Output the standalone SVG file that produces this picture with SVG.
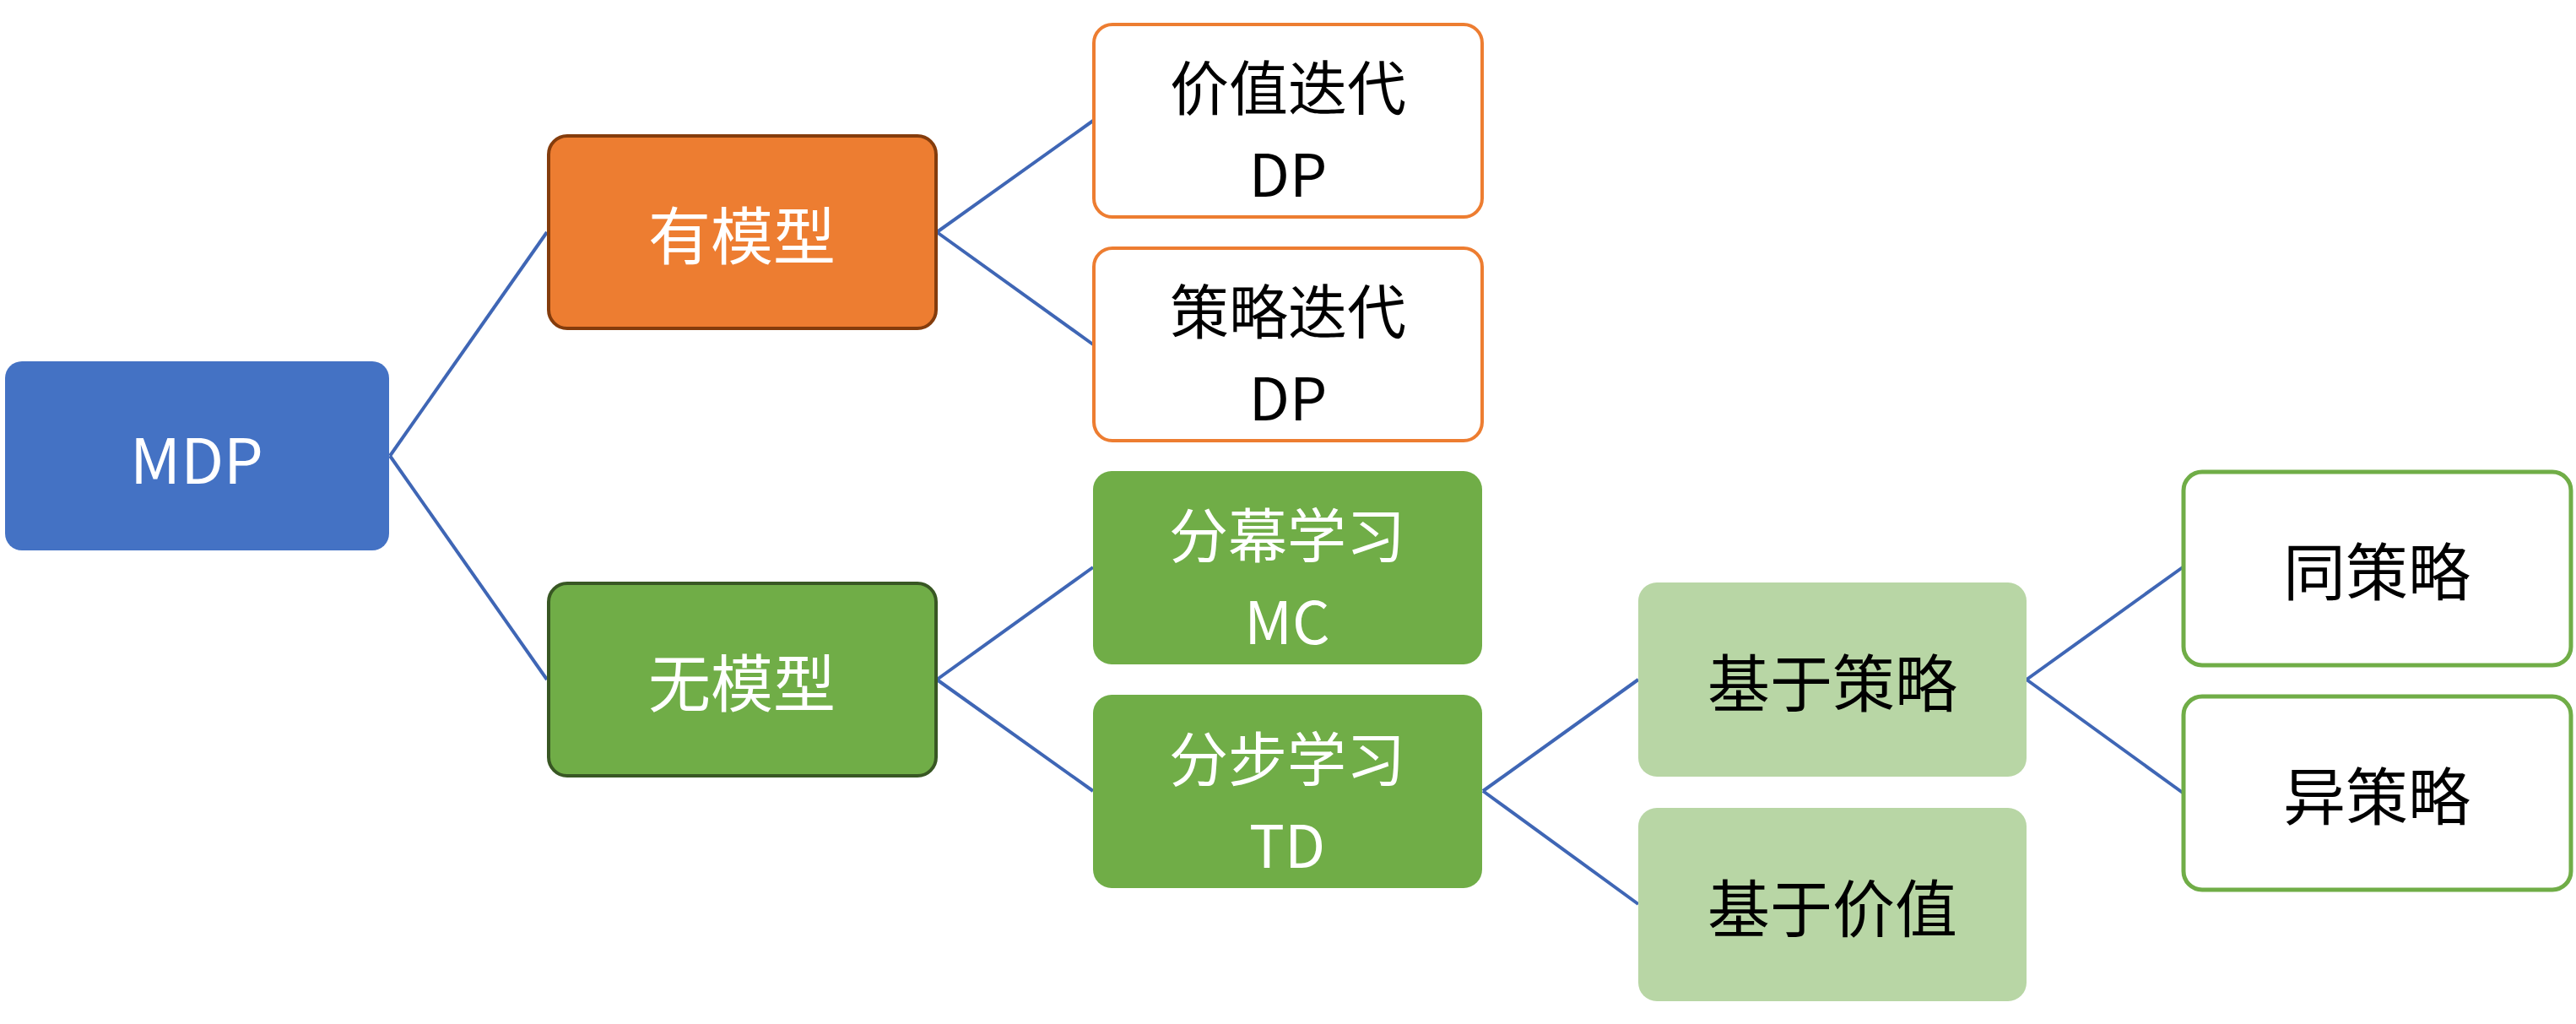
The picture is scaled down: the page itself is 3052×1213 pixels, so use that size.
<svg xmlns="http://www.w3.org/2000/svg" width="3052" height="1213" viewBox="0 0 3052 1213">
<style>
text{font-family:"Noto Sans CJK SC","Noto Sans",sans-serif;font-size:74px;text-anchor:middle;dominant-baseline:central}
text.t2{font-size:70px}
.w{fill:#fff}.k{fill:#000}
.con line{stroke:#3F66B5;stroke-width:4;fill:none}
</style>
<rect width="3052" height="1213" fill="#fff"/>
<g class="con" id="connectors">
<line x1="462" y1="540" x2="648" y2="275"/>
<line x1="462" y1="540" x2="648" y2="805"/>
<line x1="1110" y1="275" x2="1295" y2="143"/>
<line x1="1110" y1="275" x2="1295" y2="408"/>
<line x1="1110" y1="805" x2="1295" y2="672"/>
<line x1="1110" y1="805" x2="1295" y2="937"/>
<line x1="1757" y1="937" x2="1941" y2="805"/>
<line x1="1757" y1="937" x2="1941" y2="1071"/>
<line x1="2401" y1="805" x2="2586" y2="672"/>
<line x1="2401" y1="805" x2="2586" y2="939"/>
</g>
<g id="mdp"><rect x="6" y="428" width="455" height="224" rx="20" fill="#4472C4"/><text class="w" x="233" y="540">MDP</text></g>
<g id="youmoxing"><rect x="650" y="161" width="459" height="228" rx="22" fill="#ED7D31" stroke="#843C0C" stroke-width="4"/><text class="w" x="879" y="274">有模型</text></g>
<g id="wumoxing"><rect x="650" y="691" width="459" height="228" rx="22" fill="#70AD47" stroke="#385723" stroke-width="4"/><text class="w" x="879" y="804">无模型</text></g>
<g id="jiazhi"><rect x="1296" y="29" width="460" height="228" rx="22" fill="#fff" stroke="#ED7D31" stroke-width="4"/><text class="k t2" x="1526" y="100">价值迭代</text><text class="k t2" x="1526" y="202">DP</text></g>
<g id="celve"><rect x="1296" y="294" width="460" height="228" rx="22" fill="#fff" stroke="#ED7D31" stroke-width="4"/><text class="k t2" x="1526" y="365">策略迭代</text><text class="k t2" x="1526" y="467">DP</text></g>
<g id="mc"><rect x="1295" y="558" width="461" height="229" rx="22" fill="#70AD47"/><text class="w t2" x="1525" y="630">分幕学习</text><text class="w t2" x="1525" y="732">MC</text></g>
<g id="td"><rect x="1295" y="823" width="461" height="229" rx="22" fill="#70AD47"/><text class="w t2" x="1525" y="895">分步学习</text><text class="w t2" x="1525" y="997">TD</text></g>
<g id="jiyucelve"><rect x="1941" y="690" width="460" height="230" rx="22" fill="#B8D6A5"/><text class="k" x="2171" y="804">基于策略</text></g>
<g id="jiyujiazhi"><rect x="1941" y="957" width="460" height="229" rx="22" fill="#B8D6A5"/><text class="k" x="2171" y="1071">基于价值</text></g>
<g id="tongcelve"><rect x="2587" y="559" width="459" height="229" rx="22" fill="#fff" stroke="#70AD47" stroke-width="5"/><text class="k" x="2816" y="672">同策略</text></g>
<g id="yicelve"><rect x="2587" y="825" width="459" height="229" rx="22" fill="#fff" stroke="#70AD47" stroke-width="5"/><text class="k" x="2816" y="938">异策略</text></g>
</svg>
